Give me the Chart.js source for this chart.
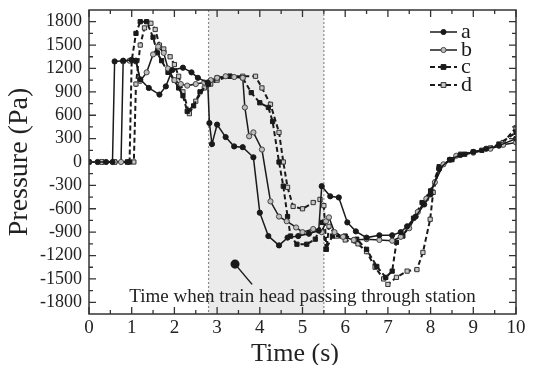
<!DOCTYPE html>
<html>
<head>
<meta charset="utf-8">
<style>
  html, body { margin: 0; padding: 0; background: #fff; }
  #wrap { width: 534px; height: 365px; }
</style>
<script src="https://cdn.jsdelivr.net/npm/chart.js@4/dist/chart.umd.min.js"></script>
</head>
<body>
<div id="wrap"><canvas id="chart"></canvas></div>
<script>
// Pressure at the station (Pa) against time (s), four measuring points a-d
const aTime = [0, 0.2, 0.4, 0.55, 0.6, 0.8, 1.0, 1.1, 1.2, 1.4, 1.65, 1.8, 1.95, 2.2, 2.4, 2.55, 2.78, 2.82, 2.88, 3.0, 3.2, 3.4, 3.6, 3.85, 4.0, 4.2, 4.45, 4.65, 4.9, 5.15, 5.38, 5.45, 5.65, 5.85, 6.05, 6.25, 6.5, 6.8, 7.1, 7.3, 7.45, 7.65, 7.85, 8.0, 8.2, 8.45, 8.7, 9.0, 9.3, 9.6, 10];
const aPa   = [0, 0, 0, 0, 1290, 1300, 1310, 1300, 1060, 950, 865, 970, 1180, 1210, 1150, 1080, 1020, 500, 230, 480, 320, 200, 190, 60, -650, -950, -1070, -970, -950, -920, -880, -310, -440, -455, -775, -890, -970, -940, -940, -900, -825, -700, -545, -415, -90, 30, 90, 130, 170, 210, 300];

const bTime = [0, 0.3, 0.6, 0.75, 0.8, 0.95, 1.1, 1.2, 1.35, 1.5, 1.62, 1.75, 1.85, 2.0, 2.15, 2.3, 2.5, 2.7, 2.85, 3.0, 3.2, 3.4, 3.6, 3.65, 3.75, 3.85, 4.05, 4.25, 4.45, 4.63, 4.85, 5.0, 5.25, 5.45, 5.55, 5.62, 5.75, 5.95, 6.2, 6.5, 6.8, 7.1, 7.3, 7.5, 7.7, 7.9, 8.1, 8.3, 8.6, 9.0, 9.4, 9.7, 10];
const bPa   = [0, 0, 0, 0, 1290, 1300, 1290, 1040, 1150, 1380, 1480, 1400, 1200, 1050, 1000, 980, 1000, 1020, 1050, 1080, 1100, 1090, 1080, 700, 330, 380, 160, -505, -700, -760, -840, -900, -860, -900, -760, -710, -900, -960, -1000, -990, -1000, -1010, -960, -850, -640, -470, -260, -30, 80, 120, 170, 220, 250];

const cTime = [0, 0.3, 0.6, 0.9, 0.95, 1.0, 1.1, 1.2, 1.35, 1.5, 1.6, 1.7, 1.85, 2.0, 2.1, 2.2, 2.3, 2.45, 2.6, 2.8, 3.0, 3.3, 3.6, 3.8, 4.0, 4.2, 4.3, 4.45, 4.55, 4.65, 4.72, 4.87, 5.1, 5.3, 5.46, 5.55, 5.7, 6.0, 6.27, 6.5, 6.74, 6.95, 7.1, 7.2, 7.35, 7.6, 7.8, 8.0, 8.2, 8.5, 8.8, 9.2, 9.6, 10];
const cPa   = [0, 0, 0, 0, 0, 1300, 1650, 1800, 1800, 1600, 1400, 1300, 1150, 1050, 950, 850, 650, 720, 900, 1000, 1080, 1100, 1080, 890, 760, 700, 520, 0, -310, -700, -950, -1055, -1055, -990, -775, -1120, -950, -950, -990, -1120, -1340, -1480, -1400, -1030, -950, -720, -520, -370, -60, 30, 100, 150, 230, 380];

const dTime = [0, 0.3, 0.6, 0.9, 1.05, 1.1, 1.2, 1.3, 1.45, 1.55, 1.65, 1.75, 1.9, 2.0, 2.1, 2.2, 2.35, 2.5, 2.7, 2.85, 3.0, 3.3, 3.6, 3.9, 4.05, 4.25, 4.45, 4.55, 4.65, 4.78, 5.0, 5.25, 5.41, 5.5, 5.56, 5.62, 5.8, 6.0, 6.3, 6.5, 6.7, 6.9, 7.0, 7.2, 7.45, 7.68, 7.82, 7.99, 8.06, 8.2, 8.45, 8.7, 9.0, 9.4, 9.7, 10];
const dPa   = [0, 0, 0, 0, 0, 1000, 1500, 1720, 1780, 1700, 1500, 1450, 1350, 1250, 1100, 900, 620, 780, 950, 1000, 1050, 1100, 1100, 1100, 950, 740, 380, 0, -325, -570, -600, -520, -480, -560, -1120, -825, -950, -1000, -1050, -1150, -1350, -1500, -1570, -1480, -1400, -1380, -1160, -735, -390, -80, 30, 100, 130, 180, 250, 440];

const seriesNames = ['a', 'b', 'c', 'd'];
const xTicks = [0, 1, 2, 3, 4, 5, 6, 7, 8, 9, 10];
const yTicks = [-1800, -1500, -1200, -900, -600, -300, 0, 300, 600, 900, 1200, 1500, 1800];

// shaded interval: train head inside the station
const bandStart = 2.8;
const bandEnd = 5.5;

// annotation pointer (dot + leader line) and its caption
const pointerTime = [3.42, 3.82];
const pointerPa = [-1310, -1570];
const noteText = 'Time when train head passing through station';
const noteTime = 5.0;
const notePa = -1790;

const SERIF = '"Liberation Serif", "Times New Roman", serif';
const INK = '#1a1a1a';

function pts(xs, ys) {
  return xs.map((x, i) => ({ x: x, y: ys[i] }));
}

const styles = [
  { dash: [], shape: 'circle', radius: 2.6, fill: INK, border: INK },
  { dash: [], shape: 'circle', radius: 2.6, fill: '#bdbdbd', border: '#444' },
  { dash: [5, 3], shape: 'rect', radius: 3, fill: INK, border: INK },
  { dash: [5, 3], shape: 'rect', radius: 3, fill: '#c8c8c8', border: '#333' },
];

const seriesData = [pts(aTime, aPa), pts(bTime, bPa), pts(cTime, cPa), pts(dTime, dPa)];

const datasets = seriesData.map((data, i) => ({
  label: seriesNames[i],
  data: data,
  showLine: true,
  borderColor: INK,
  borderWidth: styles[i].dash.length ? 2 : 1.5,
  borderDash: styles[i].dash,
  pointStyle: styles[i].shape,
  pointRadius: styles[i].radius,
  pointBackgroundColor: styles[i].fill,
  pointBorderColor: styles[i].border,
  pointBorderWidth: 1,
  tension: 0,
}));

datasets.push({
  label: 'pointer',
  data: pts(pointerTime, pointerPa),
  showLine: true,
  borderColor: INK,
  borderWidth: 1.5,
  pointRadius: [3.8, 0],
  pointBackgroundColor: INK,
  pointBorderColor: INK,
});

// band, frame, inward ticks on all four sides, legend, caption and x title
const framePlugin = {
  id: 'framePlugin',
  beforeDatasetsDraw(chart) {
    const { ctx, chartArea: ca, scales: { x, y } } = chart;
    const x0 = x.getPixelForValue(bandStart);
    const x1 = x.getPixelForValue(bandEnd);
    ctx.save();
    ctx.fillStyle = '#ebebeb';
    ctx.fillRect(x0, ca.top, x1 - x0, ca.bottom - ca.top);
    ctx.strokeStyle = '#8a8a8a';
    ctx.lineWidth = 1.2;
    ctx.setLineDash([2, 2]);
    [x0, x1].forEach(px => {
      ctx.beginPath();
      ctx.moveTo(px, ca.top);
      ctx.lineTo(px, ca.bottom);
      ctx.stroke();
    });
    ctx.setLineDash([]);
    ctx.fillStyle = '#222';
    ctx.font = '19px ' + SERIF;
    ctx.textAlign = 'center';
    ctx.textBaseline = 'alphabetic';
    ctx.fillText(noteText, x.getPixelForValue(noteTime), y.getPixelForValue(notePa));
    ctx.restore();
  },
  afterDatasetsDraw(chart) {
    const { ctx, chartArea: ca, scales: { x, y } } = chart;
    ctx.save();
    ctx.strokeStyle = '#333';
    ctx.lineWidth = 1.5;
    ctx.strokeRect(ca.left, ca.top, ca.right - ca.left, ca.bottom - ca.top);

    ctx.lineWidth = 1.3;
    ctx.beginPath();
    const xMinor = [];
    for (let i = 0; i < xTicks.length - 1; i++) xMinor.push((xTicks[i] + xTicks[i + 1]) / 2);
    const yMinor = [];
    for (let i = 0; i < yTicks.length - 1; i++) yMinor.push((yTicks[i] + yTicks[i + 1]) / 2);
    const xt = (v, len) => {
      const px = x.getPixelForValue(v);
      ctx.moveTo(px, ca.bottom); ctx.lineTo(px, ca.bottom - len);
      ctx.moveTo(px, ca.top); ctx.lineTo(px, ca.top + len);
    };
    const yt = (v, len) => {
      const py = y.getPixelForValue(v);
      ctx.moveTo(ca.left, py); ctx.lineTo(ca.left + len, py);
      ctx.moveTo(ca.right, py); ctx.lineTo(ca.right - len, py);
    };
    xTicks.forEach(v => xt(v, 7));
    xMinor.forEach(v => xt(v, 4));
    yTicks.forEach(v => yt(v, 7));
    yMinor.forEach(v => yt(v, 4));
    ctx.stroke();

    // x axis title, slightly left of the plot centre as in the original
    ctx.fillStyle = '#222';
    ctx.font = '26px ' + SERIF;
    ctx.textAlign = 'center';
    ctx.textBaseline = 'alphabetic';
    ctx.fillText('Time (s)', ca.left + 206, 361);

    // legend, top right inside the plot
    const lx0 = ca.right - 86, lx1 = ca.right - 59;
    const rows = [ca.top + 22, ca.top + 40, ca.top + 57, ca.top + 75];
    ctx.font = '22px ' + SERIF;
    ctx.textAlign = 'left';
    seriesNames.forEach((name, i) => {
      const ds = chart.data.datasets[i];
      const ly = rows[i];
      const mx = (lx0 + lx1) / 2;
      ctx.strokeStyle = INK;
      ctx.lineWidth = ds.borderWidth;
      ctx.setLineDash(ds.borderDash);
      ctx.beginPath();
      ctx.moveTo(lx0, ly);
      ctx.lineTo(lx1, ly);
      ctx.stroke();
      ctx.setLineDash([]);
      ctx.fillStyle = styles[i].fill;
      ctx.strokeStyle = styles[i].border;
      ctx.lineWidth = 1;
      ctx.beginPath();
      if (ds.pointStyle === 'circle') {
        ctx.arc(mx, ly, ds.pointRadius, 0, Math.PI * 2);
      } else {
        const r = ds.pointRadius * 0.8;
        ctx.rect(mx - r, ly - r, 2 * r, 2 * r);
      }
      ctx.fill();
      ctx.stroke();
      ctx.fillStyle = INK;
      ctx.fillText(name, lx1 + 4, ly + 6);
    });
    ctx.restore();
  },
};

new Chart(document.getElementById('chart'), {
  type: 'scatter',
  data: { datasets: datasets },
  plugins: [framePlugin],
  options: {
    responsive: true,
    maintainAspectRatio: false,
    animation: false,
    layout: { padding: { left: 0, right: 18, top: 10, bottom: 0 } },
    plugins: {
      legend: { display: false },
      tooltip: { enabled: false },
    },
    scales: {
      x: {
        type: 'linear',
        min: 0,
        max: 10,
        afterBuildTicks: s => { s.ticks = xTicks.map(v => ({ value: v })); },
        afterFit: s => { s.height = 51; s.paddingLeft = 0; s.paddingRight = 0; },
        grid: { display: false, drawTicks: false },
        border: { display: false },
        ticks: {
          color: '#222',
          padding: 5,
          maxRotation: 0,
          autoSkip: false,
          callback: v => String(v),
          font: { family: SERIF, size: 19, lineHeight: 1 },
        },
      },
      y: {
        type: 'linear',
        min: -1950,
        max: 1950,
        afterBuildTicks: s => { s.ticks = yTicks.map(v => ({ value: v })); },
        afterFit: s => { s.width = 89; s.paddingTop = 0; s.paddingBottom = 0; },
        grid: { display: false, drawTicks: false },
        border: { display: false },
        ticks: {
          color: '#222',
          padding: 7,
          autoSkip: false,
          callback: v => String(v),
          font: { family: SERIF, size: 18, lineHeight: 1 },
        },
        title: {
          display: true,
          text: 'Pressure (Pa)',
          color: '#222',
          font: { family: SERIF, size: 28, lineHeight: 1 },
          padding: { top: 6, bottom: 0 },
        },
      },
    },
  },
});
</script>
</body>
</html>
